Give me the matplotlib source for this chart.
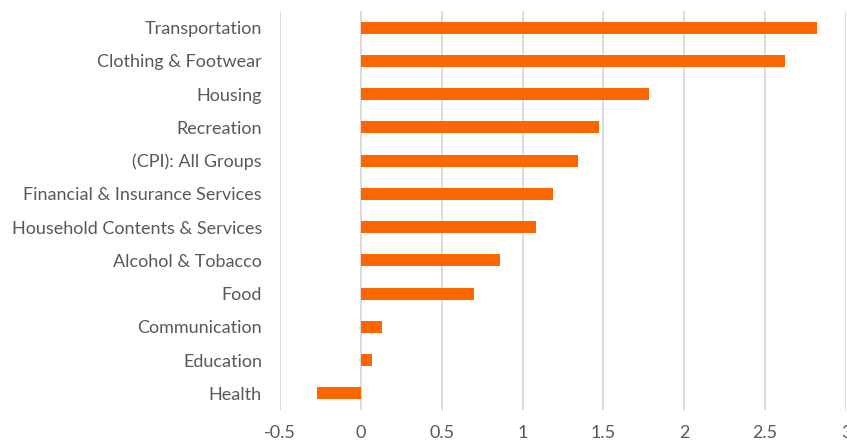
import matplotlib
matplotlib.use("Agg")
import matplotlib.pyplot as plt

categories = ["Transportation", "Clothing & Footwear", "Housing", "Recreation",
              "(CPI): All Groups", "Financial & Insurance Services",
              "Household Contents & Services", "Alcohol & Tobacco", "Food",
              "Communication", "Education", "Health"]
values = [2.82, 2.62, 1.78, 1.47, 1.34, 1.19, 1.08, 0.86, 0.70, 0.13, 0.07, -0.27]
xticks = [-0.5, 0, 0.5, 1, 1.5, 2, 2.5, 3]
xticklabels = ["-0.5", "0", "0.5", "1", "1.5", "2", "2.5", "3"]

plt.rcParams['font.family'] = ['Lato', 'DejaVu Sans']

fig = plt.figure(figsize=(8.47, 4.43), dpi=100)
ax = fig.add_axes([280/847, 1 - 410/443, (846 - 280)/847, (410 - 11)/443])

n = len(categories)
pos = list(range(n))
ax.barh(pos, values, height=0.36, color="#FF6600", zorder=3)
ax.set_ylim(n - 0.5, -0.5)
ax.set_yticks(pos)
ax.set_yticklabels(categories, fontsize=13, color="#595959")
ax.set_xlim(-0.5, 3)
ax.set_xticks(xticks)
ax.set_xticklabels(xticklabels, fontsize=13, color="#595959")
ax.grid(axis="x", color="#D9D9D9", linewidth=1.3, zorder=0)
ax.tick_params(axis="both", length=0)
ax.tick_params(axis="y", pad=13)
ax.tick_params(axis="x", pad=11)
for s in ax.spines.values():
    s.set_visible(False)

fig.savefig("out.png", dpi=100)
